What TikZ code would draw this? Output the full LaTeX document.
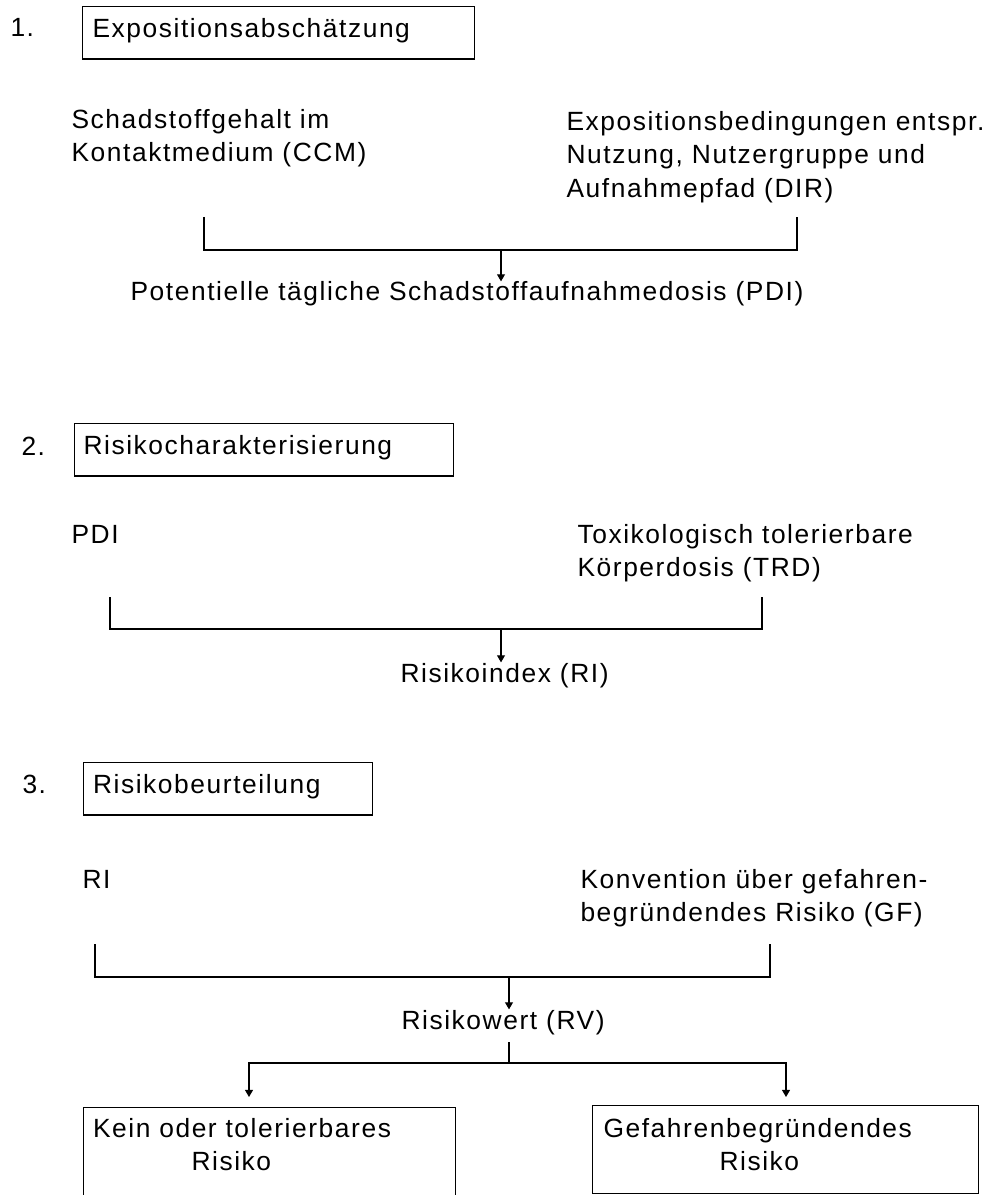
\documentclass[tikz,border=0pt]{standalone}
\usepackage{fontspec}
\setmainfont{Liberation Sans}[LetterSpace=6]
\usetikzlibrary{arrows.meta}

\begin{document}
\begin{tikzpicture}[x=0.02cm, y=-0.02cm, line width=0.6pt,
  every node/.style={inner sep=0pt, font=\fontsize{15}{19}\selectfont},
  stage/.style={draw, anchor=north west, align=left, inner ysep=0pt,
    text height=0.61cm, text depth=0.44cm},
  result/.style={draw, anchor=north west, align=left, inner ysep=0pt},
  arr/.style={-{Triangle[length=4pt,width=4.5pt]}}]

\useasboundingbox (0,0) rectangle (995,1195);
\clip (0,0) rectangle (995,1195);

% 1. Expositionsabschaetzung
\node[anchor=base west] (n1) at (10,37) {1.};
\node[stage, inner xsep=0.2cm, text width=7.44cm] (box1) at (82,6) {Expositionsabschätzung};

\node[anchor=west, align=left] (ccm) at (71,138) {Schadstoffgehalt im\\Kontaktmedium (CCM)};
\node[anchor=west, align=left] (dir) at (566,157) {Expositionsbedingungen entspr.\\Nutzung, Nutzergruppe und\\Aufnahmepfad (DIR)};

\node[anchor=base west] (pdi) at (130,301) {Potentielle tägliche Schadstoffaufnahmedosis (PDI)};

\coordinate (s1a) at (204,217);
\coordinate (s1b) at (797,217);
\coordinate (s1m) at (501,250);
\draw (s1a) |- (s1m) -| (s1b);
\draw[arr] (s1m) -- (s1m |- pdi.north);

% 2. Risikocharakterisierung
\node[anchor=base west] (n2) at (21,456) {2.};
\node[stage, inner xsep=0.18cm, text width=7.22cm] (box2) at (74,423) {Risikocharakterisierung};

\node[anchor=base west] (pdi2) at (71,543) {PDI};
\node[anchor=west, align=left] (trd) at (577,553) {Toxikologisch tolerierbare\\Körperdosis (TRD)};

\node[anchor=base west] (ri) at (400,682) {Risikoindex (RI)};

\coordinate (s2a) at (110,597);
\coordinate (s2b) at (762,597);
\coordinate (s2m) at (501,629);
\draw (s2a) |- (s2m) -| (s2b);
\draw[arr] (s2m) -- (s2m |- ri.north);

% 3. Risikobeurteilung
\node[anchor=base west] (n3) at (22,793) {3.};
\node[stage, inner xsep=0.19cm, text width=5.4cm] (box3) at (83,762) {Risikobeurteilung};

\node[anchor=base west] (ri2) at (82,888) {RI};
\node[anchor=west, align=left] (gf) at (580,898) {Konvention über gefahren-\\begründendes Risiko (GF)};

\node[anchor=base west] (rv) at (401,1029) {Risikowert (RV)};

\coordinate (s3a) at (95,944);
\coordinate (s3b) at (770,944);
\coordinate (s3m) at (509,977);
\draw (s3a) |- (s3m) -| (s3b);
\draw[arr] (s3m) -- (s3m |- rv.north);

\node[result, inner xsep=0.19cm, text width=7.06cm, text height=0.6cm, text depth=1.8cm]
  (kein) at (83,1107) {Kein oder tolerierbares\\\hspace*{1.97cm}Risiko};
\node[result, inner xsep=0.22cm, text width=7.28cm, text height=0.64cm, text depth=1.12cm]
  (gefahr) at (592,1105) {Gefahrenbegründendes\\\hspace*{2.32cm}Risiko};

\coordinate (s3n) at (509,1042);
\coordinate (s3o) at (509,1063);
\coordinate (t1) at (249,1097);
\coordinate (t2) at (786,1097);
\draw (s3n) -- (s3o);
\draw[arr] (s3o) -| (t1);
\draw[arr] (s3o) -| (t2);

\end{tikzpicture}
\end{document}
